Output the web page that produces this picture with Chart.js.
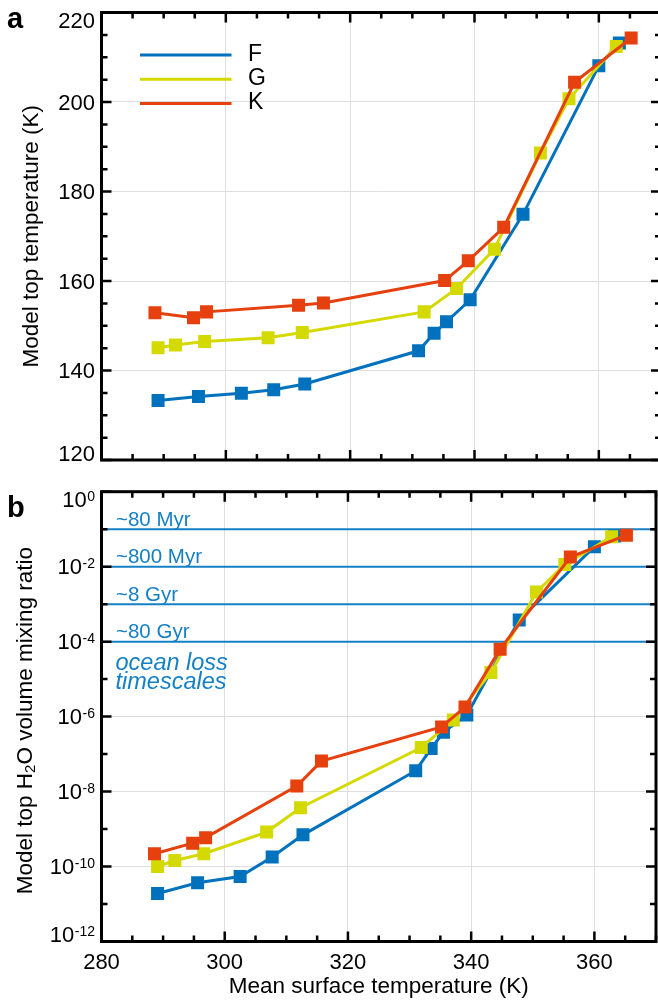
<!DOCTYPE html>
<html lang="en">
<head>
<meta charset="UTF-8">
<title>Model top temperature and H2O mixing ratio</title>
<script src="https://cdn.jsdelivr.net/npm/chart.js"></script>
<style>
  html, body { margin: 0; padding: 0; background: #fff; overflow: hidden; }
  #wrap { position: relative; width: 664px; height: 1000px; }
  canvas { position: absolute; left: 0; }
  #top { top: 0; }
  #bottom { top: 470px; }
</style>
</head>
<body>
<div id="wrap">
  <canvas id="top" width="664" height="470"></canvas>
  <canvas id="bottom" width="664" height="530"></canvas>
</div>
<script>
// star types and colours
const starTypes = ['F', 'G', 'K'];
const colors = ['#0072BD', '#D4DA00', '#E5400E'];

// mean surface temperature (K)
const surfF = [289.1, 295.6, 302.5, 307.7, 312.7, 331.0, 333.5, 335.5, 339.3, 347.8, 360.0, 363.3];
const surfG = [289.1, 291.9, 296.6, 306.8, 312.3, 331.9, 337.1, 343.2, 350.6, 355.2, 362.8];
const surfK = [288.6, 294.8, 296.9, 311.7, 315.7, 335.2, 339.0, 344.7, 356.1, 365.2];

// panel a: model top temperature (K)
const topF = [133.3, 134.2, 134.9, 135.7, 137.0, 144.4, 148.3, 150.9, 155.8, 174.9, 208.1, 213.2];
const topG = [145.1, 145.7, 146.5, 147.3, 148.5, 153.1, 158.3, 167.1, 188.6, 200.7, 212.4];
const topK = [152.9, 151.8, 153.1, 154.6, 155.1, 160.1, 164.5, 172.0, 204.4, 214.3];

// panel b: model top H2O volume mixing ratio
const h2oF = [1.9e-11, 3.7e-11, 5.4e-11, 1.8e-10, 7.0e-10, 3.6e-8, 1.4e-7, 3.8e-7, 1.1e-6, 3.8e-4, 3.4e-2, 6.6e-2];
const h2oG = [1.0e-10, 1.45e-10, 2.2e-10, 8.3e-10, 3.7e-9, 1.5e-7, 8.1e-7, 1.5e-5, 2.1e-3, 1.15e-2, 6.3e-2];
const h2oK = [2.2e-10, 4.2e-10, 5.9e-10, 1.4e-8, 6.5e-8, 5.3e-7, 1.8e-6, 6.3e-5, 1.8e-2, 6.9e-2];

// axes
const xTickLabels = [280, 300, 320, 340, 360];
const tempTicks = [120, 140, 160, 180, 200, 220];
const mixExponents = [0, -2, -4, -6, -8, -10, -12];

// ocean loss timescales
const oceanLevels = [1e-1, 1e-2, 1e-3, 1e-4];
const oceanLabels = ['~80 Myr', '~800 Myr', '~8 Gyr', '~80 Gyr'];

const FONT = '"Liberation Sans", Arial, Helvetica, sans-serif';
const GRID = '#dedede';
const OCEAN = '#1581c5';
const NONE = 'rgba(0,0,0,0)';

Chart.defaults.font.family = FONT;
Chart.defaults.color = '#000';

function makeDatasets(ysets) {
  const xsets = [surfF, surfG, surfK];
  return starTypes.map((name, i) => ({
    label: name,
    data: xsets[i].map((x, j) => ({ x: x, y: ysets[i][j] })),
    borderColor: colors[i],
    backgroundColor: colors[i],
    borderWidth: 3,
    pointStyle: 'rect',
    pointRadius: 9.2,
    pointBorderWidth: 0,
    order: 3 - i
  }));
}

// tick marks (value, length)
const xTicks = [];
for (let t = 280; t <= 370; t += 5) xTicks.push([t, t % 20 === 0 ? 10 : 6]);
const tempTickMarks = [];
for (let v = 120; v <= 220; v += 5) tempTickMarks.push([v, v % 20 === 0 ? 10 : 6]);
const mixTickMarks = [];
for (let e = -12; e <= 0; e++) mixTickMarks.push([Math.pow(10, e), e % 2 === 0 ? 10 : 6]);

// per-panel decoration, looked up by canvas id
const panels = {
  top: {
    letter: 'a', letterY: 28, xTicks: xTicks, yTicks: tempTickMarks,
    titleX: 32, titleDy: 0,
    title: [{ text: 'Model top temperature (K)', size: 22.5 }],
    legend: true, ocean: false
  },
  bottom: {
    letter: 'b', letterY: 46.7, xTicks: xTicks, yTicks: mixTickMarks,
    titleX: 26, titleDy: 4,
    title: [
      { text: 'Model top H', size: 22.5, shift: 0 },
      { text: '2', size: 15, shift: 5 },
      { text: 'O volume mixing ratio', size: 22.5, shift: 0 }
    ],
    legend: false, ocean: true
  }
};

function clampLabel(py, a) {
  return Math.min(Math.max(py, a.top + 7.5), a.bottom - 7);
}

const decorPlugin = {
  id: 'decor',
  beforeDatasetsDraw(chart) {
    const p = panels[chart.canvas.id];
    if (!p.ocean) return;
    const { ctx, chartArea: a, scales: { y } } = chart;
    ctx.save();
    ctx.strokeStyle = OCEAN;
    ctx.lineWidth = 2;
    ctx.fillStyle = OCEAN;
    ctx.textAlign = 'left';
    ctx.textBaseline = 'alphabetic';
    oceanLevels.forEach((lvl, i) => {
      const py = y.getPixelForValue(lvl);
      ctx.beginPath();
      ctx.moveTo(a.left, py);
      ctx.lineTo(a.right, py);
      ctx.stroke();
      ctx.font = '20.5px ' + FONT;
      ctx.fillText(oceanLabels[i], a.left + 14.5, py - 3.5);
    });
    const base = y.getPixelForValue(oceanLevels[oceanLevels.length - 1]);
    ctx.font = 'italic 23.5px ' + FONT;
    ctx.fillText('ocean loss', a.left + 14, base + 28.3);
    ctx.fillText('timescales', a.left + 14, base + 47.8);
    ctx.restore();
  },
  afterDraw(chart) {
    const p = panels[chart.canvas.id];
    const { ctx, chartArea: a, scales } = chart;
    ctx.save();

    // inward ticks on all four sides
    ctx.strokeStyle = '#000';
    ctx.lineWidth = 2.5;
    ctx.beginPath();
    p.xTicks.forEach(([v, len]) => {
      const px = scales.x.getPixelForValue(v);
      ctx.moveTo(px, a.bottom); ctx.lineTo(px, a.bottom - len);
      ctx.moveTo(px, a.top); ctx.lineTo(px, a.top + len);
    });
    p.yTicks.forEach(([v, len]) => {
      const py = scales.y.getPixelForValue(v);
      ctx.moveTo(a.left, py); ctx.lineTo(a.left + len, py);
      ctx.moveTo(a.right, py); ctx.lineTo(a.right - len, py);
    });
    ctx.stroke();
    ctx.lineWidth = 3;
    ctx.strokeRect(a.left, a.top, a.right - a.left, a.bottom - a.top);

    // y tick labels
    ctx.fillStyle = '#000';
    ctx.textBaseline = 'alphabetic';
    ctx.textAlign = 'right';
    const right = a.left - 6.5;
    if (p.ocean) {
      mixExponents.forEach(e => {
        const cy = clampLabel(scales.y.getPixelForValue(Math.pow(10, e)), a);
        const expText = e === 0 ? '0' : '-' + Math.abs(e);
        ctx.font = '14px ' + FONT;
        const ew = ctx.measureText(expText).width;
        ctx.fillText(expText, right, cy + 1.5);
        ctx.font = '22px ' + FONT;
        ctx.fillText('10', right - ew - 0.5, cy + 7.8);
      });
    } else {
      ctx.font = '22px ' + FONT;
      tempTicks.forEach(v => {
        const cy = clampLabel(scales.y.getPixelForValue(v), a);
        ctx.fillText(String(v), right, cy + 7.8);
      });
    }

    // legend
    if (p.legend) {
      chart.data.datasets.forEach((ds, i) => {
        const ly = a.top + 42.5 + i * 24.2;
        ctx.strokeStyle = ds.borderColor;
        ctx.lineWidth = 3;
        ctx.beginPath();
        ctx.moveTo(a.left + 38.5, ly);
        ctx.lineTo(a.left + 130, ly);
        ctx.stroke();
        ctx.font = '23px ' + FONT;
        ctx.textAlign = 'left';
        ctx.fillText(ds.label, a.left + 146.5, ly + 6);
      });
    }

    // panel letter
    ctx.font = 'bold 29px ' + FONT;
    ctx.textAlign = 'left';
    ctx.fillText(p.letter, 7, p.letterY);

    // vertical axis title (parts allow a subscript)
    ctx.translate(p.titleX, (a.top + a.bottom) / 2 + p.titleDy);
    ctx.rotate(-Math.PI / 2);
    ctx.textBaseline = 'middle';
    ctx.textAlign = 'left';
    let total = 0;
    p.title.forEach(t => { ctx.font = t.size + 'px ' + FONT; total += ctx.measureText(t.text).width; });
    let cx = -total / 2;
    p.title.forEach(t => {
      ctx.font = t.size + 'px ' + FONT;
      ctx.fillText(t.text, cx, t.shift || 0);
      cx += ctx.measureText(t.text).width;
    });
    ctx.restore();
  }
};

function xGridColor(c) {
  const v = c.tick ? c.tick.value : null;
  return (v !== null && v % 20 === 0 && v > 280 && v <= 360) ? GRID : NONE;
}

// panel a
new Chart(document.getElementById('top'), {
  type: 'line',
  data: { datasets: makeDatasets([topF, topG, topK]) },
  plugins: [decorPlugin],
  options: {
    responsive: false,
    animation: false,
    layout: { autoPadding: false, padding: { left: 0, top: 12.5, right: 3, bottom: 0 } },
    scales: {
      x: {
        type: 'linear', min: 280, max: 370,
        ticks: { display: false, stepSize: 20 },
        grid: { color: xGridColor, drawTicks: false, lineWidth: 1 },
        border: { display: false },
        afterFit(s) { s.height = 10; }
      },
      y: {
        min: tempTicks[0], max: tempTicks[tempTicks.length - 1],
        afterBuildTicks(s) { s.ticks = tempTicks.map(v => ({ value: v })); },
        ticks: { display: false },
        grid: {
          color: c => (c.tick && c.tick.value > 120 && c.tick.value < 220) ? GRID : NONE,
          drawTicks: false
        },
        border: { display: false },
        afterFit(s) { s.width = 101.5; }
      }
    },
    plugins: { legend: { display: false }, tooltip: { enabled: false } }
  }
});

// panel b
new Chart(document.getElementById('bottom'), {
  type: 'line',
  data: { datasets: makeDatasets([h2oF, h2oG, h2oK]) },
  plugins: [decorPlugin],
  options: {
    responsive: false,
    animation: false,
    layout: { autoPadding: false, padding: { left: 0, top: 21.7, right: 3, bottom: 0 } },
    scales: {
      x: {
        type: 'linear', min: 280, max: 370,
        ticks: {
          stepSize: 20, font: { size: 22 }, padding: 8, maxRotation: 0, autoSkip: false,
          callback: v => xTickLabels.includes(v) ? String(v) : ''
        },
        grid: { color: xGridColor, drawTicks: false, lineWidth: 1 },
        border: { display: false },
        title: { display: true, text: 'Mean surface temperature (K)', font: { size: 22.5 }, padding: { top: 0, bottom: 0 } },
        afterFit(s) { s.height = 58.5; }
      },
      y: {
        type: 'logarithmic', min: 1e-12, max: 1,
        afterBuildTicks(s) {
          const t = [];
          for (let e = -12; e <= 0; e++) t.push({ value: Math.pow(10, e) });
          s.ticks = t;
        },
        ticks: { display: false },
        grid: {
          color: c => {
            if (!c.tick) return NONE;
            const e = Math.round(Math.log10(c.tick.value));
            return (e % 2 === 0 && e < 0 && e > -12) ? GRID : NONE;
          },
          drawTicks: false
        },
        border: { display: false },
        afterFit(s) { s.width = 101.5; }
      }
    },
    plugins: { legend: { display: false }, tooltip: { enabled: false } }
  }
});
</script>
</body>
</html>
